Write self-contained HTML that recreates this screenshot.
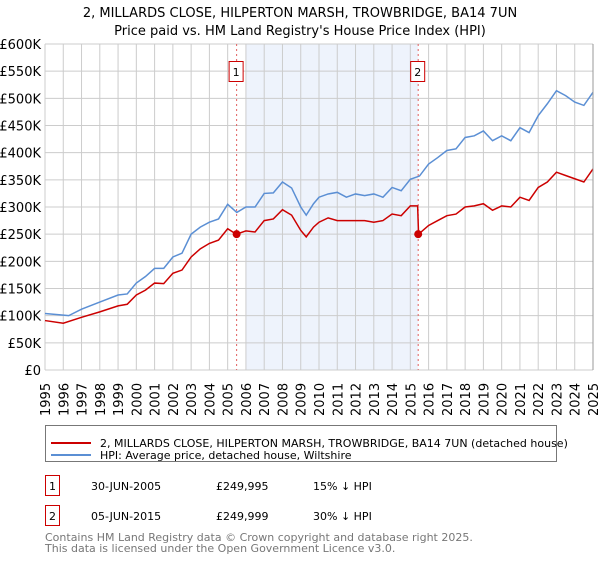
<!DOCTYPE html>
<html><head><meta charset="utf-8"><style>
body{margin:0;background:#fff;font-family:"Liberation Sans","DejaVu Sans",sans-serif;}
svg text{font-family:"DejaVu Sans","Liberation Sans",sans-serif;}
</style></head><body>
<svg id="c" width="600" height="560" viewBox="0 0 600 560" xmlns="http://www.w3.org/2000/svg">
<text x="300" y="17" text-anchor="middle" font-size="13" fill="#000">2, MILLARDS CLOSE, HILPERTON MARSH, TROWBRIDGE, BA14 7UN</text>
<text x="300" y="35" text-anchor="middle" font-size="13" fill="#000">Price paid vs. HM Land Registry's House Price Index (HPI)</text>
<g id="plot"></g>
<rect x="45.5" y="425.5" width="511" height="36" fill="#fff" stroke="#777"/>
<line x1="51" y1="443" x2="91" y2="443" stroke="#cc0000" stroke-width="2"/>
<text x="100" y="447" font-size="11">2, MILLARDS CLOSE, HILPERTON MARSH, TROWBRIDGE, BA14 7UN (detached house)</text>
<line x1="51" y1="462" x2="91" y2="462" stroke="#5b8fd4" stroke-width="2" transform="translate(0,-7)"/>
<text x="100" y="459" font-size="11">HPI: Average price, detached house, Wiltshire</text>
<rect x="45.5" y="475.5" width="14" height="20" fill="#fff" stroke="#cc0000"/>
<text x="52.5" y="490" text-anchor="middle" font-size="11">1</text>
<text x="91" y="490" font-size="11">30-JUN-2005</text>
<text x="216" y="490" font-size="11">£249,995</text>
<text x="313" y="490" font-size="11">15% ↓ HPI</text>
<rect x="45.5" y="505.5" width="14" height="20" fill="#fff" stroke="#cc0000"/>
<text x="52.5" y="520" text-anchor="middle" font-size="11">2</text>
<text x="91" y="520" font-size="11">05-JUN-2015</text>
<text x="216" y="520" font-size="11">£249,999</text>
<text x="313" y="520" font-size="11">30% ↓ HPI</text>
<text x="45" y="541" font-size="11" fill="#777">Contains HM Land Registry data © Crown copyright and database right 2025.</text>
<text x="45" y="552" font-size="11" fill="#777">This data is licensed under the Open Government Licence v3.0.</text>
</svg>
<script>
const hpiYears=[1995,1996,1996.3,1997,1998,1999,1999.5,2000,2000.5,2001,2001.5,2002,2002.5,2003,2003.5,2004,2004.5,2005,2005.5,2006,2006.5,2007,2007.5,2008,2008.5,2009,2009.3,2009.7,2010,2010.5,2011,2011.5,2012,2012.5,2013,2013.5,2014,2014.5,2015,2015.5,2016,2016.5,2017,2017.5,2018,2018.5,2019,2019.5,2020,2020.5,2021,2021.5,2022,2022.5,2023,2023.5,2024,2024.5,2025];
const hpiValues=[104,101,100,112,125,138,140,160,172,187,187,208,215,250,263,272,278,305,290,300,300,325,326,346,335,300,285,306,318,324,327,318,324,321,324,318,336,330,351,357,379,391,404,407,428,431,440,422,431,422,446,437,468,490,514,505,493,487,511];
const priceYears=[1995,1996,1997,1998,1999,1999.5,2000,2000.5,2001,2001.5,2002,2002.5,2003,2003.5,2004,2004.5,2005,2005.47,2006,2006.5,2007,2007.5,2008,2008.5,2009,2009.3,2009.7,2010,2010.5,2011,2011.5,2012,2012.5,2013,2013.5,2014,2014.5,2015,2015.4,2015.45,2016,2016.5,2017,2017.5,2018,2018.5,2019,2019.5,2020,2020.5,2021,2021.5,2022,2022.5,2023,2023.5,2024,2024.5,2025];
const priceValues=[91,86,97,107,118,121,138,147,160,159,178,184,208,223,233,239,260,250,256,254,275,278,295,285,257,245,263,272,280,275,275,275,275,272,275,287,284,302,302,250,266,275,284,287,300,302,306,294,302,300,318,312,336,346,364,358,352,346,370];
const saleYears=[2005.49,2015.43];
const saleValues=[250,250];
const saleLabels=["1","2"];
const yTicks=[0,50,100,150,200,250,300,350,400,450,500,550,600];
const xTicks=[1995,1996,1997,1998,1999,2000,2001,2002,2003,2004,2005,2006,2007,2008,2009,2010,2011,2012,2013,2014,2015,2016,2017,2018,2019,2020,2021,2022,2023,2024,2025];
const L=45,R=593,T=44,B=370;
const x=v=>L+(v-1995)/30*(R-L);
const y=v=>B-v/600*(B-T);
const NS="http://www.w3.org/2000/svg";
const g=document.getElementById('plot');
function mk(t,a){const e=document.createElementNS(NS,t);for(const k in a)e.setAttribute(k,a[k]);g.appendChild(e);return e;}
let e=mk('rect',{x:x(2006),y:T,width:x(2015.43)-x(2006),height:B-T,fill:'#eef3fc'});


yTicks.forEach(v=>{
 let l=mk('line',{x1:L,x2:R,y1:y(v),y2:y(v),stroke:'#ccc'});
 
 
 let t=mk('text',{x:L-4,y:y(v)+5,'text-anchor':'end','font-size':'13',fill:'#000'});
 t.textContent=v===0?'£0':'£'+v+'K';
 
 
});
xTicks.forEach(v=>{
 let l=mk('line',{x1:x(v),x2:x(v),y1:T,y2:B,stroke:'#ccc'});
 
 
 let t=mk('text',{x:0,y:0,'font-size':'13',fill:'#000',transform:`translate(${x(v)+5},${B+46}) rotate(-90)`});
 t.textContent=v;
 
 
});
saleYears.forEach((v,i)=>{
 let l=mk('line',{x1:x(v),x2:x(v),y1:T,y2:B,stroke:'#e06060','stroke-dasharray':'2,3'});
 
 
 let r=mk('rect',{x:x(v)-7.5,y:61.5,width:14,height:20,fill:'#fff',stroke:'#cc0000'});
 
 
 let t=mk('text',{x:x(v)-0.5,y:76,'text-anchor':'middle','font-size':'11'});
 t.textContent=saleLabels[i];
 
 
});
let hp=mk('polyline',{points:hpiYears.map((v,i)=>x(v)+','+y(hpiValues[i])).join(' '),fill:'none',stroke:'#5b8fd4','stroke-width':1.5});


let pp=mk('polyline',{points:priceYears.map((v,i)=>x(v)+','+y(priceValues[i])).join(' '),fill:'none',stroke:'#cc0000','stroke-width':1.5});


saleYears.forEach((v,i)=>{
 let c=mk('circle',{cx:x(v),cy:y(saleValues[i]),r:4,fill:'#cc0000'});
 
 
});
let ax=mk('line',{x1:R,x2:R,y1:T,y2:B,stroke:'#999'});


</script>
</body></html>
